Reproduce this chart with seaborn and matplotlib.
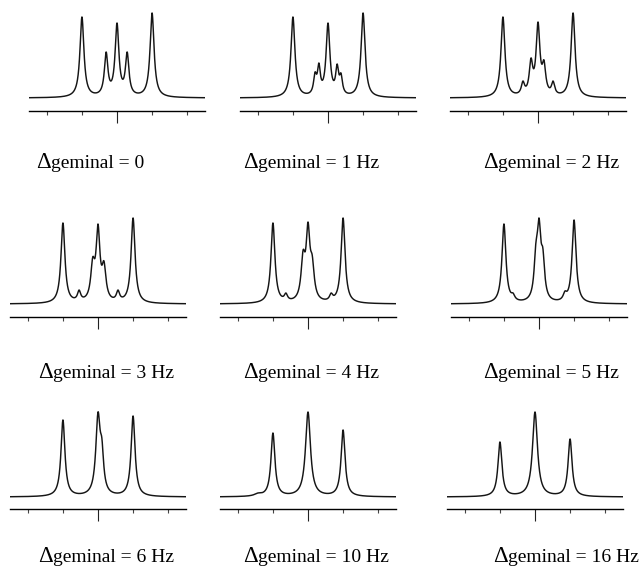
import numpy as np
import matplotlib
matplotlib.use("Agg")
import matplotlib.pyplot as plt
import seaborn as sns

# ---- data ----
labels = ["0", "1 Hz", "2 Hz", "3 Hz", "4 Hz", "5 Hz", "6 Hz", "10 Hz", "16 Hz"]
tick_positions = [-2, -1, 0, 1, 2]

# line positions (in tick units), apparent curve heights and half-widths per panel
pos_0 = [-1.0, -0.31, 0.0, 0.29, 1.0]
hgt_0 = [81, 46, 75, 46, 85]
gam_0 = [0.068, 0.06, 0.065, 0.06, 0.068]

pos_1 = [-1.0, -0.37, -0.26, 0.0, 0.26, 0.37, 1.0]
hgt_1 = [81, 26, 35, 75, 34, 25, 85]
gam_1 = [0.068, 0.05, 0.05, 0.065, 0.05, 0.05, 0.068]

pos_2 = [-1.0, -0.43, -0.2, 0.0, 0.17, 0.43, 1.0]
hgt_2 = [81, 17, 40, 76, 38, 17, 85]
gam_2 = [0.068, 0.055, 0.06, 0.065, 0.06, 0.055, 0.068]

pos_3 = [-1.0, -0.54, -0.15, 0.0, 0.17, 0.57, 1.0]
hgt_3 = [81, 14, 47, 80, 43, 14, 86]
gam_3 = [0.068, 0.055, 0.068, 0.065, 0.068, 0.055, 0.068]

pos_4 = [-1.0, -0.63, -0.14, 0.0, 0.12, 0.66, 1.0]
hgt_4 = [81, 11, 54, 82, 49, 11, 86]
gam_4 = [0.068, 0.055, 0.068, 0.065, 0.068, 0.055, 0.068]

pos_5 = [-1.0, -0.74, -0.09, 0.0, 0.11, 0.74, 1.0]
hgt_5 = [80, 11, 61, 86, 56, 13, 84]
gam_5 = [0.068, 0.06, 0.06, 0.065, 0.06, 0.06, 0.068]

pos_6 = [-1.0, 0.0, 0.11, 1.0]
hgt_6 = [77, 85, 59, 81]
gam_6 = [0.068, 0.075, 0.06, 0.068]

pos_7 = [-1.43, -1.0, 0.0, 1.0]
hgt_7 = [4, 64, 85, 67]
gam_7 = [0.12, 0.068, 0.085, 0.068]

pos_8 = [-1.0, 0.0, 1.0]
hgt_8 = [55, 85, 58]
gam_8 = [0.068, 0.085, 0.068]

positions = [pos_0, pos_1, pos_2, pos_3, pos_4, pos_5, pos_6, pos_7, pos_8]
heights = [hgt_0, hgt_1, hgt_2, hgt_3, hgt_4, hgt_5, hgt_6, hgt_7, hgt_8]
gammas = [gam_0, gam_1, gam_2, gam_3, gam_4, gam_5, gam_6, gam_7, gam_8]

# ---- layout (pixels) ----
W, H = 640, 569
panel_left = [29, 240, 450, 10, 220, 451, 10, 220, 447]
panel_axis_y = [111, 111, 111, 317, 317, 317, 509, 509, 509]
baseline_off = [13, 13, 13, 13, 13, 13, 12, 12, 12]
label_x0 = [51, 258, 498, 53, 258, 498, 53, 258, 508]
label_base = [168, 168, 168, 378, 378, 378, 562, 562, 562]
panel_w = 176
panel_h = 105

sns.set_style("white")
plt.rcParams["font.family"] = ["Liberation Serif", "DejaVu Serif"]

fig = plt.figure(figsize=(W / 100, H / 100), dpi=100)


def lorentz(x, p, g):
    return g * g / (g * g + (x - p) ** 2)


xs = np.linspace(-2.51, 2.51, 3000)
for i in range(9):
    p = np.array(positions[i], float)
    h = np.array(heights[i], float)
    g = np.array(gammas[i], float)
    A = np.array([[lorentz(pi, pj, gj) for pj, gj in zip(p, g)] for pi in p])
    amps = np.linalg.solve(A, h)
    ys = np.zeros_like(xs)
    for a, pj, gj in zip(amps, p, g):
        ys += a * lorentz(xs, pj, gj)
    ys = ys + baseline_off[i]  # data units = pixels above axis line

    l = panel_left[i] / W
    b = (H - panel_axis_y[i]) / H
    ax = fig.add_axes([l, b, panel_w / W, panel_h / H])
    sns.lineplot(x=xs, y=ys, ax=ax, color="#151515", linewidth=1.05)
    ax.set_xlim(-2.51, 2.51)
    ax.set_ylim(0, panel_h)
    for s in ["top", "right", "left"]:
        ax.spines[s].set_visible(False)
    ax.spines["bottom"].set_linewidth(1.0)
    ax.spines["bottom"].set_color("#000000")
    ax.set_xticks([t for t in tick_positions if t != 0])
    ax.set_xticks([0], minor=True)
    ax.tick_params(axis="x", which="major", direction="out", length=3.0,
                   width=0.8, color="#444444", labelbottom=False, bottom=True)
    ax.tick_params(axis="x", which="minor", direction="out", length=8.5,
                   width=0.8, color="#222222", labelbottom=False, bottom=True)
    ax.set_yticks([])
    ax.set_xlabel("")
    ax.set_ylabel("")
    ax.patch.set_alpha(0)

    yb = (H - label_base[i]) / H
    fig.text(label_x0[i] / W, yb, "\u0394", fontsize=16.5, ha="right",
             va="baseline", color="black")
    fig.text(label_x0[i] / W, yb, "geminal = " + labels[i], fontsize=14,
             ha="left", va="baseline", color="black")

fig.savefig("out.png", dpi=100)
